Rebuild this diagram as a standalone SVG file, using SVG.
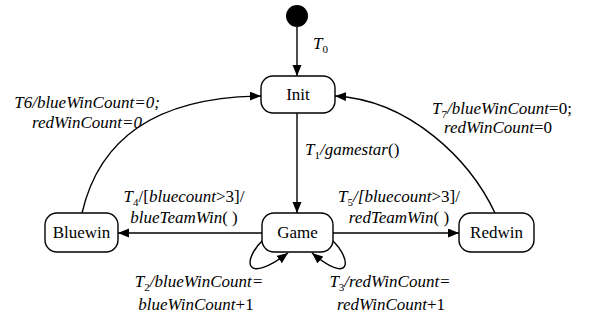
<svg xmlns="http://www.w3.org/2000/svg" width="591" height="323" viewBox="0 0 591 323">
  <style>
    .node rect { fill: #ffffff; stroke: #000000; stroke-width: 1.4; }
    .name { font-family: 'Liberation Serif', 'DejaVu Serif', serif; font-size: 17px; fill: #000; text-anchor: middle; }
    .edge { fill: none; stroke: #000000; stroke-width: 1.4; marker-end: url(#arrow); }
    .lbl { font-family: 'Liberation Serif', 'DejaVu Serif', serif; font-size: 17px; font-style: italic; fill: #000; text-anchor: middle; }
    .up { font-style: normal; }
    .sub { font-size: 11px; font-style: normal; }
  </style>
  <defs>
    <marker id="arrow" markerUnits="userSpaceOnUse" markerWidth="12" markerHeight="10" refX="11" refY="4.5" orient="auto">
      <path d="M0,0 L11,4.5 L0,9 z" fill="#000"/>
    </marker>
  </defs>

  <!-- transitions -->
  <g id="connectors">
    <path class="edge" d="M297,27 L297,76"/>
    <path class="edge" d="M297,113 L297,213"/>
    <path class="edge" d="M262,233 L118,233"/>
    <path class="edge" d="M333,233 L459,233"/>
    <path class="edge" d="M82,213 C100,135 160,97 261,96"/>
    <path class="edge" d="M495,213 C470,160 410,100 335,96"/>
    <path class="edge" d="M263,240 C242,260 244,286 288,253"/>
    <path class="edge" d="M332,240 C353,260 351,286 312,253"/>
  </g>

  <!-- states -->
  <g id="start">
    <circle cx="297" cy="16" r="11" fill="#000"/>
  </g>
  <g id="init" class="node">
    <rect x="261" y="76" width="74" height="37" rx="12"/>
    <text class="name" x="298" y="100">Init</text>
  </g>
  <g id="game" class="node">
    <rect x="262" y="213" width="71" height="39" rx="12"/>
    <text class="name" x="297.5" y="238">Game</text>
  </g>
  <g id="bluewin" class="node">
    <rect x="45" y="213" width="73" height="39" rx="12"/>
    <text class="name" x="81.5" y="238">Bluewin</text>
  </g>
  <g id="redwin" class="node">
    <rect x="459" y="213" width="75" height="39" rx="12"/>
    <text class="name" x="496.5" y="238">Redwin</text>
  </g>

  <!-- transition labels -->
  <g id="labels">
    <text class="lbl" x="313" y="49" style="text-anchor:start">T<tspan class="sub" dy="4">0</tspan></text>

    <text class="lbl" x="87" y="108">T6/blueWinCount=0;</text>
    <text class="lbl" x="87" y="128">redWinCount=0</text>

    <text class="lbl" x="502" y="114">T<tspan class="sub" dy="4">7</tspan><tspan dy="-4">/blueWinCount</tspan><tspan class="up">=0;</tspan></text>
    <text class="lbl" x="498" y="133">redWinCount<tspan class="up">=0</tspan></text>

    <text class="lbl" x="305" y="155" style="text-anchor:start">T<tspan class="sub" dy="4">1</tspan><tspan dy="-4">/gamestar</tspan><tspan class="up">()</tspan></text>

    <text class="lbl" x="184" y="202">T<tspan class="sub" dy="4">4</tspan><tspan class="up" dy="-4">/[</tspan>bluecount<tspan class="up">&gt;3]/</tspan></text>
    <text class="lbl" x="184" y="223">blueTeamWin<tspan class="up">( )</tspan></text>

    <text class="lbl" x="399" y="202">T<tspan class="sub" dy="4">5</tspan><tspan dy="-4">/[bluecount</tspan><tspan class="up">&gt;3]/</tspan></text>
    <text class="lbl" x="399" y="223">redTeamWin<tspan class="up">( )</tspan></text>

    <text class="lbl" x="199" y="287">T<tspan class="sub" dy="4">2</tspan><tspan dy="-4">/blueWinCount=</tspan></text>
    <text class="lbl" x="196" y="310">blueWinCount<tspan class="up">+1</tspan></text>

    <text class="lbl" x="390" y="287">T<tspan class="sub" dy="4">3</tspan><tspan dy="-4">/redWinCount=</tspan></text>
    <text class="lbl" x="391" y="310">redWinCount<tspan class="up">+1</tspan></text>
  </g>
</svg>
